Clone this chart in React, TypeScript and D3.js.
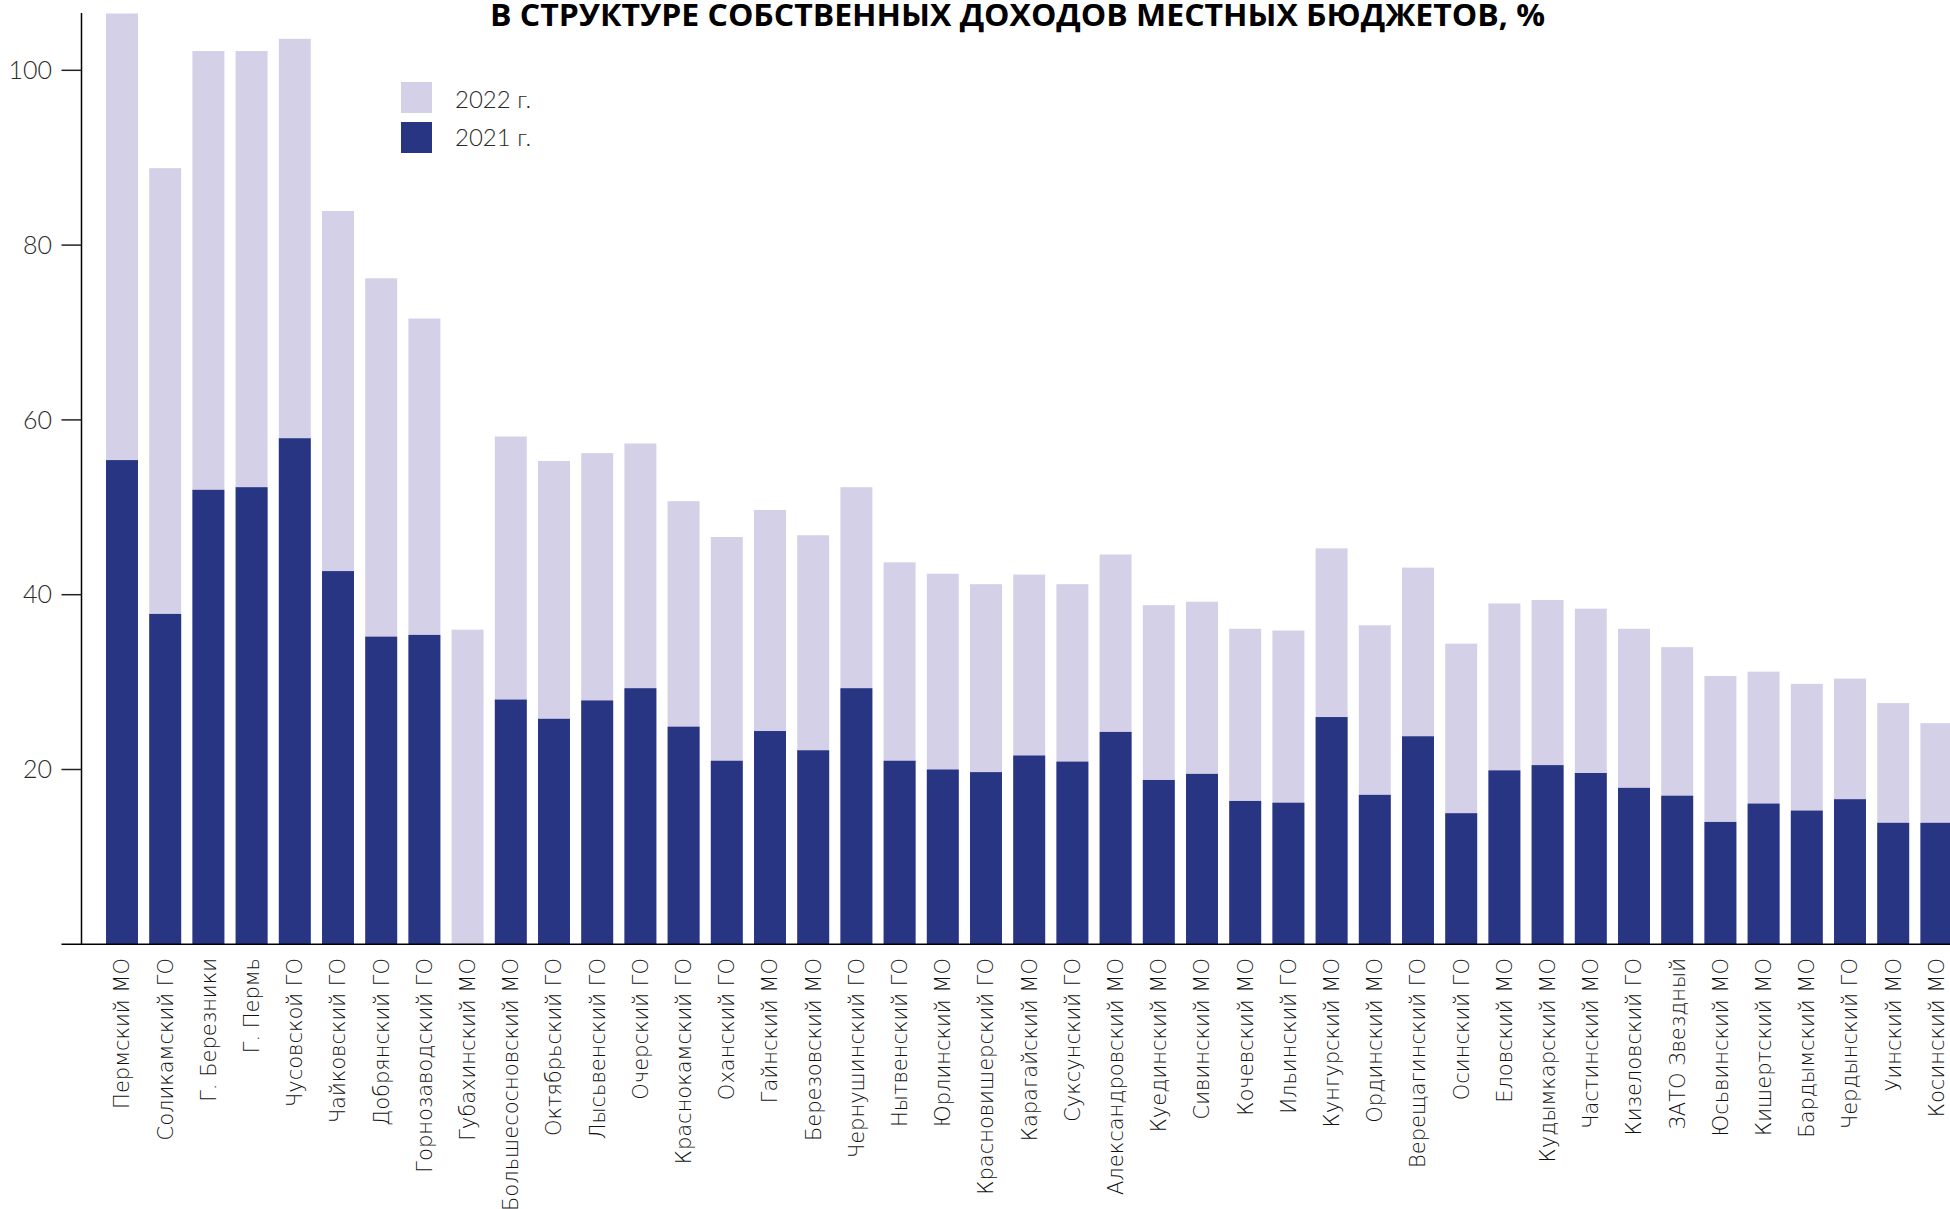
import React from "react";
import * as d3 from "d3";

const categories = [
  "Пермский МО", "Соликамский ГО", "Г. Березники", "Г. Пермь", "Чусовской ГО",
  "Чайковский ГО", "Добрянский ГО", "Горнозаводский ГО", "Губахинский МО", "Большесосновский МО",
  "Октябрьский ГО", "Лысьвенский ГО", "Очерский ГО", "Краснокамский ГО", "Оханский ГО",
  "Гайнский МО", "Березовский МО", "Чернушинский ГО", "Нытвенский ГО", "Юрлинский МО",
  "Красновишерский ГО", "Карагайский МО", "Суксунский ГО", "Александровский МО", "Куединский МО",
  "Сивинский МО", "Кочевский МО", "Ильинский ГО", "Кунгурский МО", "Ординский МО",
  "Верещагинский ГО", "Осинский ГО", "Еловский МО", "Кудымкарский МО", "Частинский МО",
  "Кизеловский ГО", "ЗАТО Звездный", "Юсьвинский МО", "Кишертский МО", "Бардымский МО",
  "Чердынский ГО", "Уинский МО", "Косинский МО",
];

const values2022 = [
  106.5, 88.8, 102.2, 102.2, 103.6, 83.9, 76.2, 71.6, 36.0, 58.1,
  55.3, 56.2, 57.3, 50.7, 46.6, 49.7, 46.8, 52.3, 43.7, 42.4,
  41.2, 42.3, 41.2, 44.6, 38.8, 39.2, 36.1, 35.9, 45.3, 36.5,
  43.1, 34.4, 39.0, 39.4, 38.4, 36.1, 34.0, 30.7, 31.2, 29.8,
  30.4, 27.6, 25.3,
];

const values2021 = [
  55.4, 37.8, 52.0, 52.3, 57.9, 42.7, 35.2, 35.4, 0, 28.0,
  25.8, 27.9, 29.3, 24.9, 21.0, 24.4, 22.2, 29.3, 21.0, 20.0,
  19.7, 21.6, 20.9, 24.3, 18.8, 19.5, 16.4, 16.2, 26.0, 17.1,
  23.8, 15.0, 19.9, 20.5, 19.6, 17.9, 17.0, 14.0, 16.1, 15.3,
  16.6, 13.9, 13.9,
];

const yTicks = [20, 40, 60, 80, 100];
const legendLabels = ["2022 г.", "2021 г."];
const title = "В СТРУКТУРЕ СОБСТВЕННЫХ ДОХОДОВ МЕСТНЫХ БЮДЖЕТОВ, %";

const LIGHT = "#d4d0e8";
const DARK = "#283583";

export default function App() {
  const W = 1950;
  const H = 1209;
  const axisX = 81.5;
  const baseY = 944.3;

  const y = d3.scaleLinear().domain([0, 100]).range([baseY, 70.3]);
  const x = d3
    .scaleBand<string>()
    .domain(categories)
    .range([100.4, 1958])
    .paddingInner(0.26)
    .paddingOuter(0.13);
  const bw = x.bandwidth();

  const labelFont = "'DejaVu Sans', sans-serif";
  const numFont = "Lato, 'Open Sans', sans-serif";

  return (
    <svg
      width={W}
      height={H}
      viewBox={`0 0 ${W} ${H}`}
      style={{ position: "absolute", left: 0, top: 0, background: "#fff" }}
    >
      <rect x={0} y={0} width={W} height={H} fill="#fff" />
      <text
        x={490}
        y={26}
        textLength={1055}
        lengthAdjust="spacingAndGlyphs"
        fontFamily="'Open Sans', sans-serif"
        fontWeight={700}
        fontSize={30}
        fill="#000"
      >
        {title}
      </text>

      {categories.map((c, i) => (
        <rect
          key={"l" + i}
          x={x(c)}
          y={y(values2022[i])}
          width={bw}
          height={baseY - y(values2022[i])}
          fill={LIGHT}
        />
      ))}
      {categories.map((c, i) =>
        values2021[i] > 0 ? (
          <rect
            key={"d" + i}
            x={x(c)}
            y={y(values2021[i])}
            width={bw}
            height={baseY - y(values2021[i])}
            fill={DARK}
          />
        ) : null
      )}

      {/* y axis */}
      <line x1={axisX} x2={axisX} y1={13} y2={baseY} stroke="#000" strokeWidth={1.5} />
      <line x1={61.5} x2={W} y1={baseY} y2={baseY} stroke="#000" strokeWidth={1.5} />
      {yTicks.map((t) => (
        <g key={t}>
          <line x1={61.5} x2={axisX} y1={y(t)} y2={y(t)} stroke="#222" strokeWidth={1.5} />
          <text
            x={52}
            y={y(t)}
            dy="0.35em"
            textAnchor="end"
            fontFamily={numFont}
            fontWeight={300}
            fontSize={25}
            fill="#2a2a2a"
          >
            {t}
          </text>
        </g>
      ))}

      {/* x labels */}
      {categories.map((c) => (
        <text
          key={"t" + c}
          transform={`translate(${(x(c) as number) + bw / 2},958) rotate(-90)`}
          dy="0.35em"
          textAnchor="end"
          fontFamily={labelFont}
          fontWeight={200}
          fontSize={21}
          fill="#111"
        >
          {c}
        </text>
      ))}

      {/* legend */}
      {legendLabels.map((l, i) => (
        <g key={l}>
          <rect x={401} y={82 + i * 40} width={31} height={31} fill={i === 0 ? LIGHT : DARK} />
          <text
            x={455}
            y={108 + i * 38}
            fontFamily={numFont}
            fontWeight={300}
            fontSize={24}
            fill="#2a2a2a"
          >
            {l}
          </text>
        </g>
      ))}
    </svg>
  );
}
